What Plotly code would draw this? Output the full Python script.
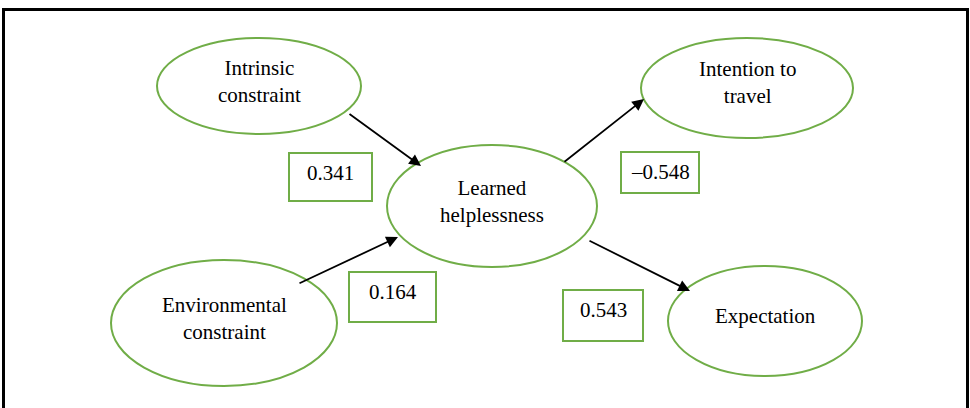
import plotly.graph_objects as go

# Data
node_labels = ["Intrinsic<br>constraint", "Environmental<br>constraint", "Learned<br>helplessness",
               "Intention to<br>travel", "Expectation"]
path_from = [0, 1, 2, 2]
path_to = [2, 2, 3, 4]
path_coef = ["0.341", "0.164", "\u20130.548", "0.543"]

# Layout (pixel coordinates)
node_cx = [259, 224, 492, 747, 765]
node_cy = [86, 323, 206, 88, 321]
node_rx = [102, 113, 105, 106, 97]
node_ry = [48, 63, 61, 50, 55]
node_ty = [81, 318, 201, 82, 316]
arrow_start = [(348, 113), (298, 284), (563, 163), (588, 240)]
arrow_end = [(421, 166), (398, 237), (644, 99), (690, 291)]
box_x0 = [289, 349, 621, 563]
box_x1 = [372, 436, 699, 643]
box_y0 = [153, 272, 152, 290]
box_y1 = [201, 322, 193, 341]
coef_ty = [173, 292, 172, 310]

GREEN = "#70AD47"
FONT = dict(family="Liberation Serif, Times New Roman, serif", size=21, color="black")

fig = go.Figure()
fig.add_trace(go.Scatter(x=[0, 970], y=[0, 408], mode="markers",
                         marker=dict(opacity=0), hoverinfo="skip", showlegend=False))

shapes = []
annotations = []
# outer border
shapes.append(dict(type="line", x0=2, x1=969, y0=9.5, y1=9.5, line=dict(color="black", width=3), xref="x", yref="y"))
shapes.append(dict(type="line", x0=3.5, x1=3.5, y0=8, y1=410, line=dict(color="black", width=3), xref="x", yref="y"))
shapes.append(dict(type="line", x0=967.5, x1=967.5, y0=8, y1=410, line=dict(color="black", width=3), xref="x", yref="y"))

for i, lab in enumerate(node_labels):
    shapes.append(dict(type="circle", xref="x", yref="y",
                       x0=node_cx[i] - node_rx[i], x1=node_cx[i] + node_rx[i],
                       y0=node_cy[i] - node_ry[i], y1=node_cy[i] + node_ry[i],
                       line=dict(color=GREEN, width=2), fillcolor="white"))
    annotations.append(dict(x=node_cx[i], y=node_ty[i], xref="x", yref="y", text=lab,
                            showarrow=False, font=FONT, align="center"))

for k in range(len(path_coef)):
    shapes.append(dict(type="rect", xref="x", yref="y",
                       x0=box_x0[k], x1=box_x1[k], y0=box_y0[k], y1=box_y1[k],
                       line=dict(color=GREEN, width=2), fillcolor="white"))
    annotations.append(dict(x=(box_x0[k] + box_x1[k]) / 2, y=coef_ty[k],
                            xref="x", yref="y", text=path_coef[k], showarrow=False, font=FONT))
    (sx, sy), (ex, ey) = arrow_start[k], arrow_end[k]
    annotations.append(dict(x=ex, y=ey, ax=sx, ay=sy, xref="x", yref="y", axref="x", ayref="y",
                            text="", showarrow=True, arrowhead=2, arrowsize=1.3, arrowwidth=1.8,
                            arrowcolor="black"))

fig.update_layout(
    width=970, height=408,
    margin=dict(l=0, r=0, t=0, b=0),
    paper_bgcolor="white", plot_bgcolor="white",
    xaxis=dict(range=[0, 970], visible=False, fixedrange=True),
    yaxis=dict(range=[408, 0], visible=False, fixedrange=True),
    shapes=shapes, annotations=annotations, showlegend=False,
)
fig.write_html("out.html", config={"displayModeBar": False},
               post_script="document.body.style.margin='0';document.body.style.overflow='hidden';")
